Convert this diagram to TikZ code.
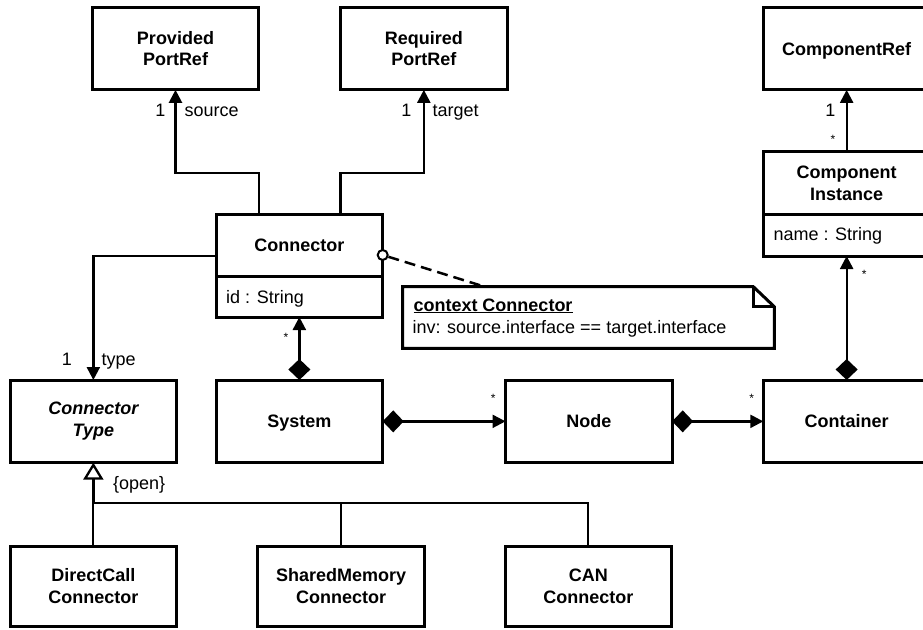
\documentclass[tikz,border=0pt]{standalone}
\usepackage{fontspec}
\setmainfont{Liberation Sans}
\usetikzlibrary{arrows.meta}

\begin{document}
\begin{tikzpicture}[x=1pt, y=-1pt,
  box/.style={draw, line width=3pt, rectangle, minimum width=166.7pt,
    minimum height=82.7pt, outer sep=0pt, inner sep=0pt},
  title/.style={font=\bfseries\fontsize{18}{21.7}\selectfont, align=center, inner sep=0pt},
  oneline/.style={text height=13pt, text depth=0pt},
  attr/.style={font=\fontsize{18}{21.7}\selectfont, inner sep=0pt, anchor=base west},
  lbl/.style={font=\fontsize{18}{21.7}\selectfont, inner sep=0pt},
  mult/.style={font=\fontsize{12}{14}\selectfont, inner sep=0pt},
  assoc/.style={line width=2.3pt, -{Triangle[length=13pt,width=13pt]}},
  comp/.style={line width=2.3pt, {Diamond[length=21pt,width=22pt]}-{Triangle[length=13pt,width=13pt]}},
  genline/.style={line width=2pt},
  gentip/.style={line width=2.3pt, -{Triangle[open,length=17pt,width=20pt]}},
  noteline/.style={line width=2.5pt, dash pattern=on 11pt off 6pt},
]
\useasboundingbox (0,0) rectangle (923,629);
\fill[white] (0,0) rectangle (923,629);
\clip (0,0) rectangle (923,629);

% ---- top row ----
\node[box, title] (prov) at (175.5,48.5) {Provided\\PortRef};
\node[box, title] (req)  at (423.85,48.5) {Required\\PortRef};
\node[box, title, oneline] (cref) at (846.65,48.5) {ComponentRef};

% ---- Connector class with attribute compartment ----
\node[box, minimum height=103pt] (conn) at (299.35,265.5) {};
\draw[line width=3pt] (conn.west |- 0,276.7) -- (conn.east |- 0,276.7);
\node[title, oneline] at (299.35,245.35) {Connector};
\node[attr] at (226,303.3) {id : String};

% ---- Component Instance class ----
\node[box, minimum height=104.3pt] (ci) at (846.65,203.85) {};
\draw[line width=3pt] (ci.west |- 0,214.3) -- (ci.east |- 0,214.3);
\node[title] at (846.65,183) {Component\\Instance};
\node[attr] at (773.3,240.3) {name : String};

% ---- OCL note ----
\node[minimum width=371.6pt, minimum height=61.6pt, inner sep=0pt, outer sep=0pt] (note) at (588.5,317.5) {};
\draw[line width=3pt, line join=miter]
  (note.north west) -- ([xshift=-21pt]note.north east) -- ([yshift=-20pt]note.north east)
  -- (note.south east) -- (note.south west) -- cycle;
\draw[line width=3pt] ([xshift=-21pt]note.north east) |- ([yshift=-20pt]note.north east);
\node[attr, font=\bfseries\fontsize{18}{21.7}\selectfont] at (413.3,311) {\underline{context Connector}};
\node[attr] at (412.3,333.3) {inv: source.interface == target.interface};

% ---- middle row ----
\node[box, title, font=\bfseries\itshape\fontsize{18}{21.7}\selectfont] (ctype) at (93.35,421.35) {Connector\\Type};
\node[box, title, oneline] (sys)  at (299.35,421.35) {System};
\node[box, title, oneline] (nd)   at (588.85,421.35) {Node};
\node[box, title, oneline] (cont) at (846.65,421.35) {Container};

% ---- bottom row ----
\node[box, title, minimum height=80.7pt] (dcc) at (93.35,586.35) {DirectCall\\Connector};
\node[box, title, minimum height=80.7pt] (shm) at (341.15,586.35) {SharedMemory\\Connector};
\node[box, title, minimum height=80.7pt] (can) at (588.35,586.35) {CAN\\Connector};

% ---- associations ----
\coordinate (bend) at (0,173);
\draw[assoc] (conn.north -| prov.east) -- (prov.east |- bend) -| (prov.south);
\draw[assoc] (conn.north -| req.west) -- (req.west |- bend) -| (req.south);
\draw[assoc] ([yshift=9.8pt]conn.west) -| (ctype.north);
\draw[assoc] (ci.north) -- (cref.south);

% ---- compositions ----
\draw[comp] (sys.north) -- (conn.south);
\draw[comp] (sys.east) -- (nd.west);
\draw[comp] (nd.east) -- (cont.west);
\draw[comp] (cont.north) -- (ci.south);

% ---- note attachment ----
\node[draw, circle, line width=2pt, minimum size=10pt, inner sep=0pt, fill=white] (ctx) at ([yshift=10.5pt]conn.east) {};
\draw[noteline] (ctx) -- ([xshift=82pt]note.north west);

% ---- generalization set ----
\coordinate (bus) at (93.35,503.3);
\draw[genline] (dcc.north) -- (bus) -| (can.north);
\draw[genline] (shm.north) -- (shm.north |- bus);
\draw[gentip] (bus) -- (ctype.south);

% ---- role names and multiplicities ----
\node[lbl, anchor=base east] at (165.5,116.7) {1};
\node[lbl, anchor=base west] at (184.5,116.7) {source};
\node[lbl, anchor=base east] at (411.5,116.7) {1};
\node[lbl, anchor=base west] at (432.5,116.7) {target};
\node[lbl, anchor=base east] at (72,365) {1};
\node[lbl, anchor=base west] at (101.5,365) {type};
\node[lbl, anchor=base east] at (835.5,116.7) {1};
\node[mult] at (833,139.5) {*};
\node[mult] at (286,337.5) {*};
\node[mult] at (493.3,398.5) {*};
\node[mult] at (751.7,398.5) {*};
\node[mult] at (864.3,274.5) {*};
\node[lbl, anchor=base west] at (113,489) {\{open\}};
\end{tikzpicture}
\end{document}
